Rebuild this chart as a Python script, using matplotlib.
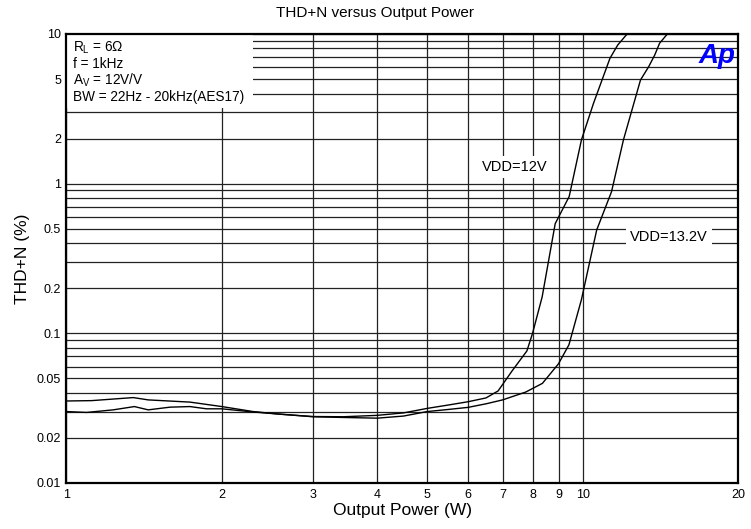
import matplotlib
matplotlib.use("Agg")
import matplotlib.pyplot as plt
from matplotlib.patches import Rectangle
from matplotlib.ticker import FixedLocator, NullFormatter, LogLocator

plt.rcParams['font.family'] = ['Liberation Sans', 'DejaVu Sans']
plt.rcParams['mathtext.fontset'] = 'custom'
plt.rcParams['mathtext.rm'] = 'Liberation Sans'
plt.rcParams['mathtext.it'] = 'Liberation Sans'

# THD+N (%) vs output power (W), 1 kHz, 6 ohm load
power_12v = [1.0, 1.094, 1.232, 1.354, 1.44, 1.587, 1.735, 1.868, 2.0, 2.3, 2.6,
             3.0, 3.44, 4.0, 4.5, 5.0, 5.5, 6.0, 6.5, 6.86, 7.3, 7.8, 8.0, 8.35,
             8.85, 9.42, 9.95, 10.5, 11.3, 11.7, 12.2]
thdn_12v = [0.0300, 0.0296, 0.0308, 0.0324, 0.0308, 0.0321, 0.0324, 0.0313, 0.0313,
            0.0298, 0.0288, 0.0278, 0.0277, 0.0283, 0.0294, 0.0315, 0.0332, 0.0349,
            0.0370, 0.0412, 0.056, 0.0762, 0.10, 0.175, 0.54, 0.82, 1.96, 3.44,
            6.88, 8.44, 10.0]

power_13v2 = [1.0, 1.119, 1.347, 1.44, 1.735, 2.0, 2.3, 2.6, 3.0, 3.44, 4.0, 4.5,
              5.0, 5.5, 6.0, 6.5, 7.0, 7.76, 8.36, 8.98, 9.41, 9.95, 10.65, 11.38,
              12.0, 12.95, 13.43, 13.8, 14.1, 14.6]
thdn_13v2 = [0.0353, 0.0355, 0.0372, 0.0359, 0.0347, 0.0324, 0.0300, 0.0288, 0.0277,
             0.0274, 0.0271, 0.0280, 0.0300, 0.0310, 0.0320, 0.0338, 0.0359, 0.0405,
             0.0463, 0.0625, 0.0838, 0.168, 0.49, 0.884, 1.96, 4.93, 6.04, 7.24,
             8.67, 10.0]

xticks = [1, 2, 3, 4, 5, 6, 7, 8, 9, 10, 20]
yticks = [0.01, 0.02, 0.05, 0.1, 0.2, 0.5, 1, 2, 5, 10]
ytick_labels = ['0.01', '0.02', '0.05', '0.1', '0.2', '0.5', '1', '2', '5', '10']

fig = plt.figure(figsize=(7.51, 5.29), dpi=100)
ax = fig.add_axes([0.0885, 0.087, 0.8941, 0.8488])
ax.set_xscale('log')
ax.set_yscale('log')
ax.set_xlim(1, 20)
ax.set_ylim(0.01, 10)

ax.xaxis.set_major_locator(FixedLocator(xticks))
ax.set_xticklabels([str(t) for t in xticks])
ax.xaxis.set_minor_locator(FixedLocator([]))
ax.yaxis.set_major_locator(FixedLocator(yticks))
ax.set_yticklabels(ytick_labels)
ax.yaxis.set_minor_locator(LogLocator(base=10, subs=range(2, 10)))
ax.yaxis.set_minor_formatter(NullFormatter())
ax.tick_params(which='both', length=0, labelsize=9, pad=4)

ax.set_axisbelow(True)
ax.grid(True, which='both', color='#222222', linewidth=0.9)

for s in ax.spines.values():
    s.set_linewidth(1.6)
    s.set_zorder(5)

ax.plot(power_12v, thdn_12v, color='black', linewidth=1.0, zorder=3)
ax.plot(power_13v2, thdn_13v2, color='black', linewidth=1.0, zorder=3)

# white panel with test conditions
ax.add_patch(Rectangle((0, 0.835), 0.278, 0.165, transform=ax.transAxes,
                       facecolor='white', edgecolor='none', zorder=2))
cond = [r'R$_\mathrm{L}$ = 6$\Omega$', 'f = 1kHz', r'A$_\mathrm{V}$ = 12V/V',
        'BW = 22Hz - 20kHz(AES17)']
cond_y = [0.970, 0.934, 0.8976, 0.860]
for line, yy in zip(cond, cond_y):
    ax.text(0.0095, yy, line, transform=ax.transAxes,
            fontsize=9.8, va='center', ha='left', zorder=4)

ax.text(0.668, 0.704, 'VDD=12V', transform=ax.transAxes, fontsize=10.5,
        va='center', ha='center', zorder=4,
        bbox=dict(facecolor='white', edgecolor='none', pad=3))
ax.text(0.897, 0.548, 'VDD=13.2V', transform=ax.transAxes, fontsize=10.5,
        va='center', ha='center', zorder=4,
        bbox=dict(facecolor='white', edgecolor='none', pad=3))

ax.text(0.996, 0.952, 'Ap', transform=ax.transAxes, fontsize=20,
        fontweight='bold', fontstyle='italic', color='#0000ff',
        va='center', ha='right', zorder=4)

fig.text(0.5, 0.975, 'THD+N versus Output Power', fontsize=11,
         ha='center', va='center')
ax.set_xlabel('Output Power (W)', fontsize=12.5, labelpad=2)
ax.set_ylabel('THD+N (%)', fontsize=12.5, labelpad=5)

fig.savefig('out.png', dpi=100)
